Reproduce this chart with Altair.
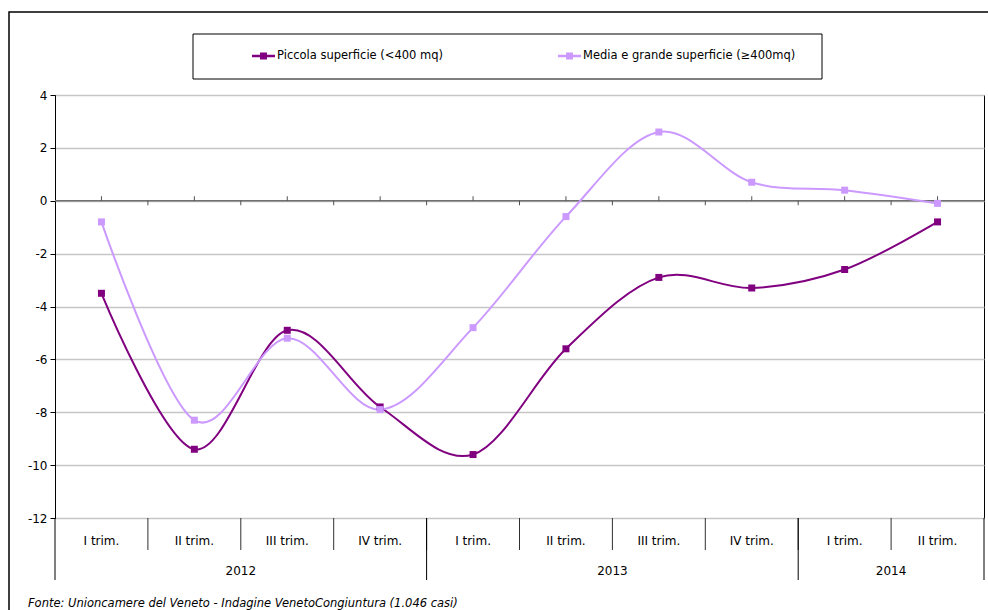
import altair as alt
import pandas as pd

# ---------------- data ----------------
periods = ["I trim.", "II trim.", "III trim.", "IV trim.",
           "I trim.", "II trim.", "III trim.", "IV trim.",
           "I trim.", "II trim."]
years = ["2012", "2012", "2012", "2012",
         "2013", "2013", "2013", "2013",
         "2014", "2014"]
piccola = [-3.5, -9.4, -4.9, -7.8, -9.6, -5.6, -2.9, -3.3, -2.6, -0.8]
media = [-0.8, -8.3, -5.2, -7.9, -4.8, -0.6, 2.6, 0.7, 0.4, -0.1]
series_names = ["Piccola superficie (<400 mq)", "Media e grande superficie (≥400mq)"]
series_colors = ["#800080", "#CC99FF"]
y_ticks = [-12, -10, -8, -6, -4, -2, 0, 2, 4]
source_text = "Fonte: Unioncamere del Veneto - Indagine VenetoCongiuntura (1.046 casi)"

FONT = "DejaVu Sans"
W, H = 929, 423

idx = list(range(len(periods)))
rows = []
for name, vals in zip(series_names, [piccola, media]):
    for i, p, y, v in zip(idx, periods, years, vals):
        rows.append({"idx": i, "period": p, "year": y, "series": name, "value": v})
df = pd.DataFrame(rows)

per = pd.DataFrame({"idx": idx, "period": periods, "year": years})
per["left"] = per["idx"] - 0.5
inner_bounds = per[per["idx"] > 0][["left"]]

yr = per.groupby("year", as_index=False).agg(first=("idx", "min"), last=("idx", "max"))
yr["mid"] = (yr["first"] + yr["last"]) / 2
yr_bounds = pd.DataFrame({"b": sorted(set(list(yr["first"] - 0.5) + list(yr["last"] + 0.5)))})

one = pd.DataFrame({"k": [0]})

xs = alt.Scale(domain=[-0.5, len(periods) - 0.5], nice=False, zero=False)
ys = alt.Scale(domain=[-12, 4], nice=False, zero=False)
cs = alt.Scale(domain=series_names, range=series_colors)

yaxis = alt.Axis(
    values=y_ticks, title=None, grid=True, gridColor="#c6c6c6", gridWidth=1.5,
    domainColor="#000000", domainWidth=1, tickColor="#000000", tickSize=5,
    labelExpr="toString(datum.value)",
    labelFont=FONT, labelFontSize=12, labelColor="#000000", labelPadding=3)

# ---------------- decorations ----------------
outer = alt.Chart(one).mark_rect(filled=False, stroke="#000000", strokeWidth=1.5).encode(
    x=alt.value(-46), x2=alt.value(960), y=alt.value(-83), y2=alt.value(540))

legend_box = alt.Chart(one).mark_rect(filled=False, stroke="#000000", strokeWidth=1).encode(
    x=alt.value(138), x2=alt.value(767), y=alt.value(-61), y2=alt.value(-16))

zero_line = alt.Chart(one).mark_rule(color="#707070", strokeWidth=1.5).encode(
    x=alt.value(0), x2=alt.value(W), y=alt.datum(0, scale=ys, axis=yaxis))

zero_ticks_c = alt.Chart(per).mark_rule(color="#505050", strokeWidth=1).encode(
    x=alt.X("idx:Q", scale=xs, axis=None),
    y=alt.datum(0, scale=ys, axis=yaxis), y2=alt.datum(0.17))
zero_ticks_b = alt.Chart(inner_bounds).mark_rule(color="#505050", strokeWidth=1).encode(
    x=alt.X("left:Q", scale=xs, axis=None),
    y=alt.datum(0, scale=ys, axis=yaxis), y2=alt.datum(-0.17))

trim_sep = alt.Chart(inner_bounds).mark_rule(color="#303030", strokeWidth=1).encode(
    x=alt.X("left:Q", scale=xs, axis=None), y=alt.value(H), y2=alt.value(H + 32))
year_sep = alt.Chart(yr_bounds).mark_rule(color="#000000", strokeWidth=1).encode(
    x=alt.X("b:Q", scale=xs, axis=None), y=alt.value(H), y2=alt.value(H + 62))

trim_lab = alt.Chart(per).mark_text(font=FONT, fontSize=12, color="#000000", baseline="middle").encode(
    x=alt.X("idx:Q", scale=xs, axis=None), y=alt.value(H + 23), text="period:N")
year_lab = alt.Chart(yr).mark_text(font=FONT, fontSize=12, color="#000000", baseline="middle").encode(
    x=alt.X("mid:Q", scale=xs, axis=None), y=alt.value(H + 53), text="year:N")

source = alt.Chart(pd.DataFrame({"t": [source_text]})).mark_text(
    font=FONT, fontSize=11.5, fontStyle="italic", color="#000000", align="left", baseline="middle").encode(
    x=alt.value(-27), y=alt.value(H + 86), text="t:N")

# ---------------- series ----------------
lines = alt.Chart(df).mark_line(interpolate="cardinal", tension=0, strokeWidth=2).encode(
    x=alt.X("idx:Q", scale=xs, axis=None),
    y=alt.Y("value:Q", scale=ys, axis=yaxis),
    color=alt.Color("series:N", scale=cs, legend=None),
    detail="series:N")

legend_path = "M-1,-0.1H-0.3V-0.3H0.3V-0.1H1V0.1H0.3V0.3H-0.3V0.1H-1Z"
points = alt.Chart(df).mark_point(shape="square", filled=True, size=49, opacity=1).encode(
    x=alt.X("idx:Q", scale=xs, axis=None),
    y=alt.Y("value:Q", scale=ys, axis=yaxis),
    color=alt.Color("series:N", scale=cs, legend=alt.Legend(
        orient="none", legendX=197, legendY=-50.5, direction="horizontal", title=None,
        symbolType=legend_path, symbolSize=529, symbolStrokeWidth=0, symbolOpacity=1,
        labelFont=FONT, labelFontSize=11.5, labelColor="#000000", labelOffset=2,
        labelLimit=0, columnPadding=114, padding=0)))

chart = alt.layer(
    outer, legend_box, zero_line, zero_ticks_c, zero_ticks_b,
    trim_sep, year_sep, trim_lab, year_lab, source, lines, points
).resolve_legend(color="independent").properties(
    width=W, height=H,
    autosize=alt.AutoSizeParams(type="none"),
    padding={"left": 55, "top": 95, "right": 4, "bottom": 92},
).configure(font=FONT).configure_view(stroke="#000000", strokeWidth=1)

chart.save("out.html", embed_options={"renderer": "svg", "actions": False})
